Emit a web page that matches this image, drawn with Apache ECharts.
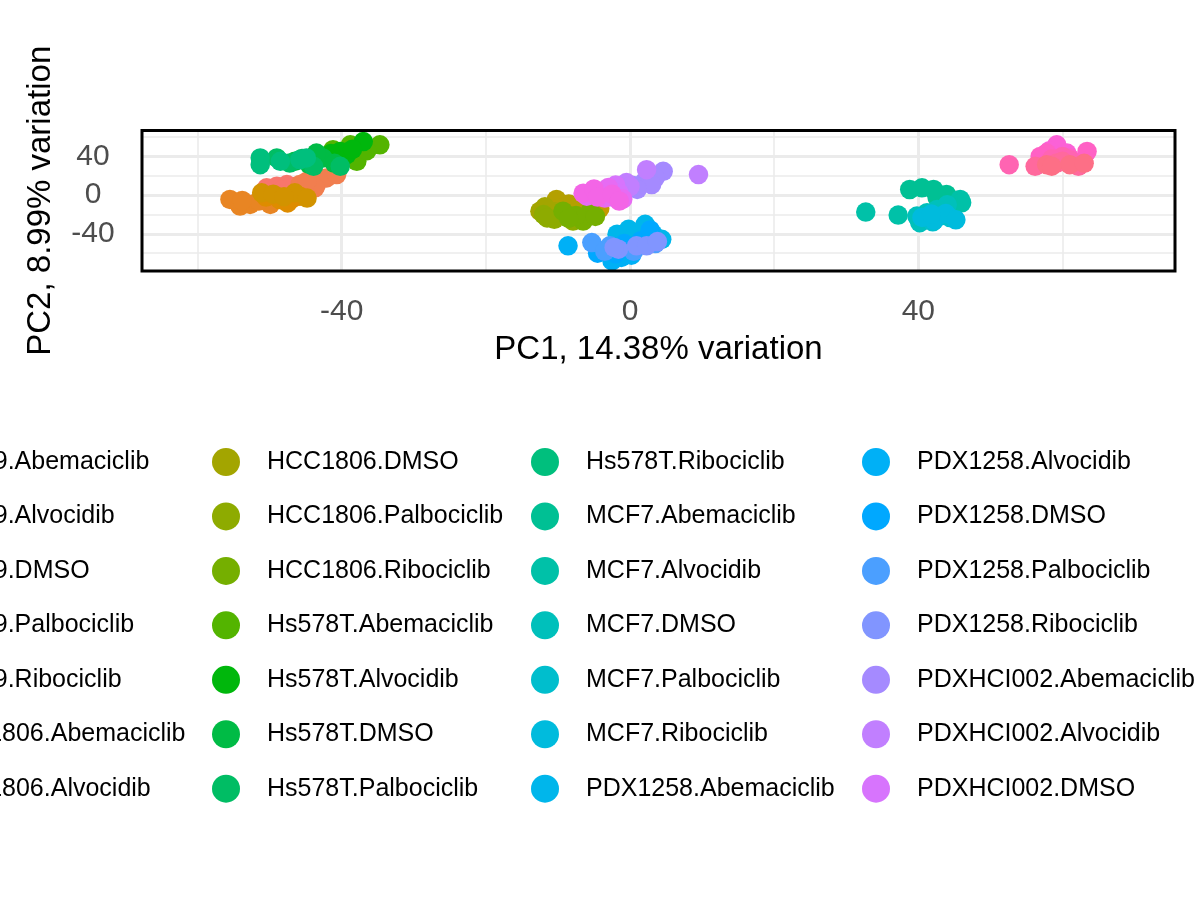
<!DOCTYPE html>
<html>
<head>
<meta charset="utf-8">
<script src="https://cdn.jsdelivr.net/npm/echarts@6/dist/echarts.min.js"></script>
<style>
html,body{margin:0;padding:0;background:#fff;}
#chart{width:1200px;height:900px;}
</style>
</head>
<body>
<div id="chart"></div>
<script>
// ---- categories ----
const cellLines = ['BT549', 'HCC1806', 'Hs578T', 'MCF7', 'PDX1258', 'PDXHCI002', 'SUM159'];
const treatments = ['Abemaciclib', 'Alvocidib', 'DMSO', 'Palbociclib', 'Ribociclib'];

// ---- PCA scores [PC1, PC2], one list per treatment (order as in treatments) ----
const BT549_PC = [
  [[-50.4, 7.6], [-49, 9.3], [-47.6, 11], [-48.2, 5.5], [-46.5, 9]],
  [[-45.8, 11], [-43.5, 11], [-42.1, 17.9], [-40.7, 21.3], [-43.7, 7.6], [-44.8, 14.5]],
  [[-55.5, -4.4], [-54.1, -11.3], [-52.7, -9.6], [-49.9, -9.6], [-51.5, -6], [-53.8, -5.5]],
  [[-46.7, -2.7], [-45.8, -1], [-48.6, -4.5], [-50.5, -2], [-47.5, -8]],
  [[-51.1, 2.5], [-49.5, 1], [-46.5, 2.5], [-48, -1.5], [-44.8, -3]]
];
const HCC1806_PC = [
  [[-6, -1], [-4.6, -9.6], [-5.5, -6], [-7.4, -11.3], [-4.2, -14]],
  [[-10.2, -4.4], [-8.5, -9], [-6.8, -16], [-9.8, -13], [-5.2, -20]],
  [[-12.5, -16.5], [-11.1, -21.6], [-10.4, -17], [-8.8, -22], [-11.8, -12]],
  [[-12, -20], [-10.5, -25], [-9, -19], [-7.9, -26.7], [-11.5, -23.5]],
  [[-9.3, -16.5], [-6.5, -26.7], [-5.5, -16.5], [-7.5, -21], [-4.8, -22], [-8.5, -24]]
];
const Hs578T_PC = [
  [[-41.2, 47], [-37.9, 35], [-34.7, 52.1], [-38.8, 52.1], [-40.5, 40], [-36.5, 46]],
  [[-39.3, 41.9], [-37, 55.5], [-40.2, 45.2], [-38.5, 47.5], [-41.5, 43]],
  [[-42.6, 38.5], [-43.5, 43.6], [-46.5, 35], [-44.5, 32], [-41, 33]],
  [[-47.2, 33.3], [-49, 38.5], [-43.9, 29.8], [-45.5, 38], [-40.2, 29.8]],
  [[-51.3, 38.5], [-51.3, 31.6], [-45.8, 36.7], [-44.9, 38.5], [-48.5, 35]]
];
const MCF7_PC = [
  [[38.8, 5.9], [40.5, 7.6], [42.1, 5.9], [43.9, 0.7], [42.6, -2.7]],
  [[32.7, -17.5], [37.2, -20.6], [45.8, -4.4], [46, -7.8], [44.9, -13], [40, -24]],
  [[39.8, -21.6], [41.2, -18.1], [42.6, -14.7], [44, -10], [40.2, -28.4]],
  [[41.6, -25], [43, -21.6], [44.4, -23.2], [42, -27.5]],
  [[40.5, -23], [42.2, -26], [43.8, -19], [45.2, -25.5], [41.8, -19.5]]
];
const PDX1258_PC = [
  [[-1.8, -40.4], [-0.2, -35.3], [0.7, -42.2], [2.1, -30.1], [3.2, -40.4], [4.4, -45.6]],
  [[-8.6, -52.4], [-3.9, -57.6], [-1.2, -64.4], [-2.5, -68], [0.2, -62]],
  [[-4.5, -60], [-2, -60.5], [1.5, -47], [2.8, -36], [-0.8, -50]],
  [[-5.3, -49], [-2.8, -52.4], [-3.5, -58], [0.5, -58], [3.5, -50]],
  [[-1.6, -55.8], [0.9, -52.4], [2.3, -52.4], [3.8, -48], [-2.2, -54]]
];
const PDXHCI002_PC = [
  [[4.6, 24.7], [3.5, 18], [2, 14], [0.5, 10], [3, 11], [1, 6]],
  [[2.3, 26.4], [9.5, 21.3], [-0.5, 13], [0, 9], [-1.5, 5]],
  [[-3.5, 5], [-2, 10.5], [-1.5, 2], [-4, 0], [-2.5, -2]],
  [[-5, 3], [-6, -1], [-3, 8], [-3.5, -3], [-1, -4]],
  [[-6.5, 2], [-5, 6.5], [-4.5, -2], [-2.5, 1], [-1.5, -6]]
];
const SUM159_PC = [
  [[59.2, 52.1], [58.2, 46], [60.6, 43.6]],
  [[57.8, 43.6], [63.4, 45.2], [62.9, 35], [56.9, 40.1], [61, 38.5]],
  [[52.6, 31.6], [60, 40], [58.5, 37.5], [61, 36.7]],
  [[56.2, 29.8], [59.2, 33.3], [62.2, 29.8], [60, 35]],
  [[57.8, 31.6], [61, 31.6], [63, 33], [58.5, 30]]
];
const pcByCellLine = [BT549_PC, HCC1806_PC, Hs578T_PC, MCF7_PC, PDX1258_PC, PDXHCI002_PC, SUM159_PC];

// ---- tick values ----
const xTicks = [-40, 0, 40];
const yTicks = [-40, 0, 40];
const xMinorGrid = [-60, -20, 20, 60];
const yMinorGrid = [-60, -20, 20, 60];

// ---- ggplot2 default hue palette (hcl, c=100, l=65) ----
function hclHex(h, c, l) {
  const WY = 100, Wu = 0.1978398, Wv = 0.4683363;
  const hr = h * Math.PI / 180;
  const U = c * Math.cos(hr), V = c * Math.sin(hr);
  const Y = WY * (l > 7.999592 ? Math.pow((l + 16) / 116, 3) : l / 903.3);
  const u = U / (13 * l) + Wu, v = V / (13 * l) + Wv;
  const X = 9 * Y * u / (4 * v);
  const Z = -X / 3 - 5 * Y + 3 * Y / v;
  const g = t => t > 0.00304 ? 1.055 * Math.pow(t, 1 / 2.4) - 0.055 : 12.92 * t;
  const ch = t => { const x = Math.max(0, Math.min(1, t)); return ('0' + Math.round(x * 255).toString(16)).slice(-2); };
  const R = g((3.240479 * X - 1.537150 * Y - 0.498535 * Z) / WY);
  const G = g((-0.969256 * X + 1.875992 * Y + 0.041556 * Z) / WY);
  const B = g((0.055648 * X - 0.204043 * Y + 1.057311 * Z) / WY);
  return '#' + ch(R) + ch(G) + ch(B);
}

const groupNames = [];
const groupData = [];
cellLines.forEach((cl, i) => treatments.forEach((t, j) => {
  groupNames.push(cl + '.' + t);
  groupData.push(pcByCellLine[i][j]);
}));
const nGroups = groupNames.length;
const palette = groupNames.map((_, i) => hclHex(15 + 360 * i / nGroups, 100, 65));

const FONT = '"Liberation Sans", Arial, Helvetica, sans-serif';

const gridLineData = [];
xTicks.forEach(v => gridLineData.push({ xAxis: v, lineStyle: { width: 3 } }));
xMinorGrid.forEach(v => gridLineData.push({ xAxis: v, lineStyle: { width: 1.6 } }));
yTicks.forEach(v => gridLineData.push({ yAxis: v, lineStyle: { width: 3 } }));
yMinorGrid.forEach(v => gridLineData.push({ yAxis: v, lineStyle: { width: 1.6 } }));

const series = [{
  type: 'scatter', name: '__grid', data: [], silent: true, z: 1,
  markLine: {
    silent: true, z: 1, animation: false, symbol: ['none', 'none'],
    label: { show: false },
    lineStyle: { color: '#EBEBEB', type: 'solid' },
    emphasis: { disabled: true },
    data: gridLineData
  }
}];
groupNames.forEach((name, i) => {
  series.push({
    type: 'scatter', name: name, data: groupData[i], z: 3,
    symbol: 'circle', symbolSize: 19.5,
    itemStyle: { color: palette[i], opacity: 1 },
    emphasis: { disabled: true }
  });
});

const colCenters = [-107, 226, 545, 876, 1240];
const legends = colCenters.map((cx, k) => ({
  orient: 'vertical', left: cx - 14, top: 448, padding: 0,
  itemWidth: 28, itemHeight: 28, itemGap: 26.45, icon: 'circle',
  selectedMode: false,
  textStyle: { fontSize: 25, color: '#000', fontFamily: FONT, padding: [0, 0, 0, 22] },
  data: groupNames.slice(k * 7, k * 7 + 7)
}));

const chart = echarts.init(document.getElementById('chart'), null, { renderer: 'canvas' });
chart.setOption({
  animation: false,
  backgroundColor: '#ffffff',
  textStyle: { fontFamily: FONT },
  grid: { left: 142, right: 25, top: 130.5, bottom: 629, show: true, z: 10,
          backgroundColor: 'transparent', borderColor: '#000', borderWidth: 3 },
  legend: legends,
  xAxis: {
    type: 'value', min: -67.7, max: 75.6,
    axisLine: { show: false },
    axisTick: { show: true, customValues: xTicks, length: 7, lineStyle: { color: '#333333', width: 2.5 } },
    axisLabel: { customValues: xTicks, fontSize: 30, color: '#4D4D4D', margin: 26, fontFamily: FONT },
    splitLine: { show: false },
    name: 'PC1, 14.38% variation', nameLocation: 'middle', nameGap: 62,
    nameTextStyle: { fontSize: 33, color: '#000', fontFamily: FONT }
  },
  yAxis: {
    type: 'value', min: -78.4, max: 66.9,
    axisLine: { show: false },
    axisTick: { show: true, customValues: yTicks, length: 7, lineStyle: { color: '#333333', width: 2.5 } },
    axisLabel: { customValues: yTicks, fontSize: 30, color: '#4D4D4D', margin: 49, align: 'center', fontFamily: FONT },
    splitLine: { show: false },
    name: 'PC2, 8.99% variation', nameLocation: 'middle', nameGap: 85,
    nameTextStyle: { fontSize: 33, color: '#000', fontFamily: FONT }
  },
  series: series
});
</script>
</body>
</html>
